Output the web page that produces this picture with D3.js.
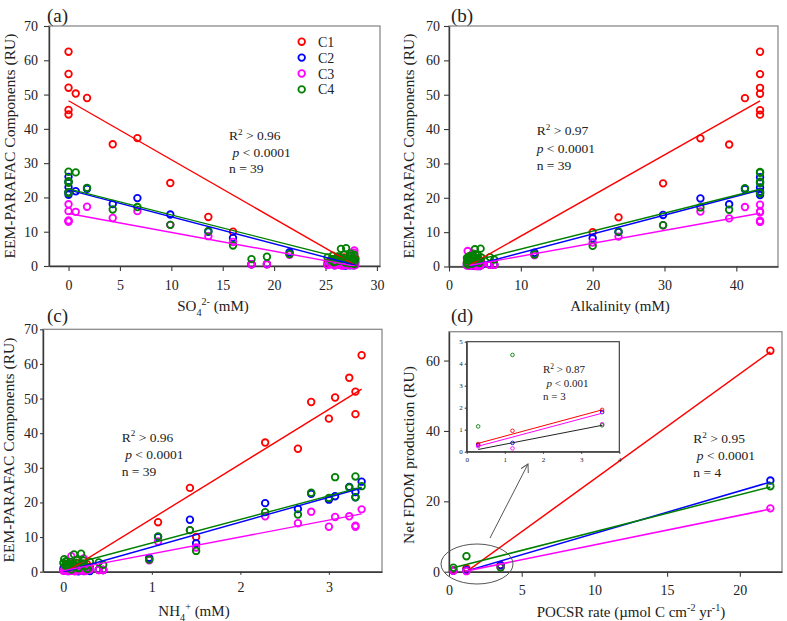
<!DOCTYPE html>
<html><head><meta charset="utf-8">
<script src="https://cdn.jsdelivr.net/npm/d3@7"></script>
<style>
body{margin:0;background:#fff}
svg{display:block}
text{font-family:"Liberation Serif","Times New Roman",serif;fill:#222}
</style>
</head><body><svg id="c" width="787" height="621"></svg>
<script>
// ---------------- DATA ----------------
const components = ["C1", "C2", "C3", "C4"];
// 39 samples: SO4 (mM), alkalinity (mM), NH4+ (mM), and the four PARAFAC components (RU)
const so4 = [0,0,0,0.7,1.8,0,0,6.7,4.3,9.9,13.6,16,17.8,19.3,21.5,
  25.2,25.5,25.7,25.9,26.0,26.2,26.3,26.5,26.6,26.8,26.9,27.0,27.1,27.2,27.3,27.4,27.5,27.6,27.7,27.8,27.9,26.4,25.8,27.8];
const alkalinity = [43.3,43.3,43.3,43.3,41.2,43.3,43.3,35,39,29.8,23.6,20,6.3,5.7,11.9,
  2.5,2.6,2.8,3.0,3.1,3.3,3.5,3.6,3.8,4.0,4.2,4.4,2.7,2.9,3.2,3.4,3.7,3.9,4.1,2.6,3.0,4.5,2.5,3.3];
const nh4 = [3.37,3.23,3.3,3.07,2.8,3.3,3.0,2.28,2.65,1.43,1.07,1.5,0.45,0.4,0.97,
  0.0,0.02,0.03,0.05,0.06,0.08,0.1,0.12,0.13,0.15,0.17,0.2,0.22,0.25,0.27,0.3,0.01,0.04,0.07,0.09,0.11,0.14,0.18,0.23];
const c1 = [62.5,56,52,50.3,49,45.5,44.2,37.3,35.5,24.2,14.3,10,0.5,0.5,3.5,
  1.0,1.5,2.0,0.8,1.8,1.2,2.2,0.6,1.4,2.5,0.9,1.7,1.1,0.5,2.1,1.3,0.7,1.9,1.6,0.4,2.3,1.0,1.2,0.8];
const c2 = [26,24.5,23,21.8,22.5,21.5,20.8,19.8,18.1,15,10,8.2,0.5,0.6,4.0,
  0.4,0.6,0.9,0.2,1.2,0.5,0.7,1.5,0.3,0.8,0.1,1.0,0.6,0.4,0.9,0.2,1.3,0.5,0.3,0.7,1.1,0.4,0.8,0.2];
const c3 = [18,16,13.3,15.8,17.3,13,13,16,14,12,8.7,7,0.5,0.5,3.3,
  0.3,0.5,0.8,0.2,1.0,0.4,0.6,1.2,0.1,0.7,0.4,0.3,0.9,0.2,0.5,0.6,0.4,1.1,0.2,4.5,0.3,0.8,0.5,3.8];
const c4 = [24.7,24.3,27.5,27.3,22.8,21.5,21.3,17.2,16.5,12,10.2,6,2,2.7,3.5,
  2.5,1.8,3.0,1.2,2.2,2.8,1.5,5.0,2.0,3.3,1.0,5.2,2.4,1.6,0.8,2.9,3.6,1.4,2.1,0.6,1.9,2.6,1.1,3.2];

// Linear fits: [C1, C2, C3, C4]
const fitSO4Slope = [-1.72, -0.786, -0.55, -0.76];
const fitSO4Intercept = [48.2, 22.2, 15.3, 22.5];
const fitSO4Range = [0, 28];
const fitAlkSlope = [1.183, 0.55, 0.375, 0.523];
const fitAlkIntercept = [-3.0, -1.54, -0.75, -0.16];
const fitAlkRange = [2.8, 43.3];
const fitNH4Slope = [15.8, 7.2, 4.87, 6.8];
const fitNH4Intercept = [-0.5, -0.1, 0.3, 1.5];
const fitNH4Range = [0, 3.37];

// Panel (d): POCSR rate vs net FDOM production
const pocsr = [0.3, 1.2, 3.55, 22.1];
const netC1 = [0.35, 0.95, 1.9, 62.8];
const netC2 = [0.3, 0.4, 1.8, 25.9];
const netC3 = [0.25, 0.15, 1.25, 18.0];
const netC4 = [1.15, 4.4, 1.2, 24.3];
const fitPocsrSlope = [2.99, 1.21, 0.842, 1.055];
const fitPocsrIntercept = [-3.59, -1.25, -0.81, 0.78];
const fitPocsrStart = [1.3, 1.1, 1.1, 0.3];
const fitPocsrEnd = 22.1;
// inset fits (red, magenta, black)
const insetFitSlope = [0.468, 0.462, 0.338];
const insetFitIntercept = [0.24, 0.11, 0.0];
const insetFitRange = [0.3, 3.55];

// tick values
const yTicks70 = [0,10,20,30,40,50,60,70];
const xTicksSO4 = [0,5,10,15,20,25,30];
const xTicksAlk = [0,10,20,30,40];
const xTicksNH4 = [0,1,2,3];
const xTicksPocsr = [0,5,10,15,20];
const yTicksNet = [0,20,40,60];
const insetXTicks = [0,1,2,3,4];
const insetYTicks = [0,1,2,3,4,5];

// ---------------- STYLE ----------------
const colors = ["#ff0000", "#0000ff", "#ff00ff", "#008000"];
const insetFitColors = ["#ff0000", "#ff00ff", "#222222"];
const svg = d3.select("#c");
const compValues = [c1, c2, c3, c4];
const netValues = [netC1, netC2, netC3, netC4];

function rich(sel, parts, size) {
  let shift = 0;
  parts.forEach(p => {
    const ts = sel.append("tspan").text(p.t);
    const target = p.sub ? size * 0.3 : (p.sup ? -size * 0.4 : 0);
    if (target - shift !== 0) ts.attr("dy", target - shift);
    shift = target;
    if (p.sub || p.sup) ts.attr("font-size", size * 0.68);
    if (p.i) ts.attr("font-style", "italic");
  });
}

let clipId = 0;
function makePanel(cfg) {
  const x = d3.scaleLinear().domain(cfg.xDomain).range([cfg.left, cfg.right]);
  const y = d3.scaleLinear().domain(cfg.yDomain).range([cfg.bottom, cfg.top]);
  const g = svg.append("g");
  g.append("rect").attr("x", cfg.left).attr("y", cfg.top)
    .attr("width", cfg.right - cfg.left).attr("height", cfg.bottom - cfg.top)
    .attr("fill", "#fff").attr("stroke", "#8a8a8a").attr("stroke-width", 1.3);
  const ya = g.append("g").attr("transform", `translate(${cfg.left},0)`)
    .call(d3.axisLeft(y).tickValues(cfg.yTicks).tickSize(cfg.tick).tickSizeOuter(0).tickPadding(cfg.yPad).tickFormat(d3.format("d")));
  const xa = g.append("g").attr("transform", `translate(0,${cfg.bottom})`)
    .call(d3.axisBottom(x).tickValues(cfg.xTicks).tickSize(cfg.tick).tickSizeOuter(0).tickPadding(cfg.xPad).tickFormat(d3.format("d")));
  [ya, xa].forEach(a => {
    a.select(".domain").attr("stroke", "#3a3a3a").attr("stroke-width", 1.4);
    a.selectAll(".tick line").attr("stroke", "#3a3a3a").attr("stroke-width", 1.1);
    a.selectAll(".tick text").attr("font-family", '"Liberation Serif","Times New Roman",serif')
      .attr("font-size", cfg.fs || 14).attr("fill", "#222");
  });
  const id = "clip" + (clipId++);
  svg.append("clipPath").attr("id", id).append("rect")
    .attr("x", cfg.left).attr("y", cfg.top).attr("width", cfg.right - cfg.left).attr("height", cfg.bottom - cfg.top);
  return {x, y, g, clip: `url(#${id})`};
}

function drawPoints(p, xs, ysArr, r, sw) {
  ysArr.forEach((ys, k) => {
    p.g.append("g").selectAll("circle").data(xs.map((v, i) => [v, ys[i]])).join("circle")
      .attr("cx", d => p.x(d[0])).attr("cy", d => p.y(d[1])).attr("r", r)
      .attr("fill", "none").attr("stroke", colors[k]).attr("stroke-width", sw);
  });
}
function drawFit(p, slope, intercept, x0, x1, color, w) {
  p.g.append("line").attr("clip-path", p.clip)
    .attr("x1", p.x(x0)).attr("y1", p.y(intercept + slope * x0))
    .attr("x2", p.x(x1)).attr("y2", p.y(intercept + slope * x1))
    .attr("stroke", color).attr("stroke-width", w || 1.4);
}
function label(x, y, t, size) {
  svg.append("text").attr("x", x).attr("y", y).attr("font-size", size).text(t);
}
function stats(x, y, r2, pv, n, size, step, pIndent) {
  const t1 = svg.append("text").attr("x", x).attr("y", y).attr("font-size", size);
  rich(t1, [{t: "R"}, {t: "2", sup: true}, {t: " > " + r2}], size);
  const t2 = svg.append("text").attr("x", x + pIndent).attr("y", y + step).attr("font-size", size);
  rich(t2, [{t: "p", i: true}, {t: " < " + pv}], size);
  svg.append("text").attr("x", x).attr("y", y + 2 * step).attr("font-size", size).text("n = " + n);
}
function yTitle(x, y, parts, size) {
  const t = svg.append("text").attr("transform", `translate(${x},${y}) rotate(-90)`)
    .attr("text-anchor", "middle").attr("font-size", size);
  rich(t, parts, size);
}
function xTitle(x, y, parts, size) {
  const t = svg.append("text").attr("x", x).attr("y", y).attr("text-anchor", "middle").attr("font-size", size);
  rich(t, parts, size);
}

// ---------------- PANEL (a) ----------------
const pa = makePanel({left: 49, right: 380, top: 26, bottom: 266, xDomain: [-1.9, 30.3], yDomain: [0, 70],
  xTicks: xTicksSO4, yTicks: yTicks70, tick: 5, xPad: 9, yPad: 6});
drawPoints(pa, so4, compValues, 3.3, 1.8);
components.forEach((c, k) => drawFit(pa, fitSO4Slope[k], fitSO4Intercept[k], fitSO4Range[0], fitSO4Range[1], colors[k]));
components.forEach((c, k) => {
  pa.g.append("circle").attr("cx", 301.7).attr("cy", 41.7 + k * 15.9).attr("r", 3.3)
    .attr("fill", "none").attr("stroke", colors[k]).attr("stroke-width", 1.8);
  pa.g.append("text").attr("x", 318).attr("y", 41.7 + k * 15.9 + 5).attr("font-size", 14).text(c);
});
stats(229, 140, "0.96", "0.0001", 39, 13.5, 16.5, 3.5);
label(47, 22, "(a)", 19);
yTitle(14.5, 146, [{t: "EEM-PARAFAC Components (RU)"}], 15.5);
xTitle(213, 311, [{t: "SO"}, {t: "4", sub: true}, {t: "2-", sup: true}, {t: " (mM)"}], 15);

// ---------------- PANEL (b) ----------------
const pb = makePanel({left: 449, right: 778, top: 26, bottom: 266.5, xDomain: [0, 45.8], yDomain: [0, 70],
  xTicks: xTicksAlk, yTicks: yTicks70, tick: 5, xPad: 9, yPad: 4});
drawPoints(pb, alkalinity, compValues, 3.3, 1.8);
components.forEach((c, k) => drawFit(pb, fitAlkSlope[k], fitAlkIntercept[k], fitAlkRange[0], fitAlkRange[1], colors[k]));
stats(536.7, 135, "0.97", "0.0001", 39, 13.5, 17.5, 0);
label(451, 22, "(b)", 19);
yTitle(414, 146, [{t: "EEM-PARAFAC Components (RU)"}], 15.5);
xTitle(620, 311, [{t: "Alkalinity (mM)"}], 15);

// ---------------- PANEL (c) ----------------
const pc = makePanel({left: 43, right: 382, top: 329.3, bottom: 571.7, xDomain: [-0.23, 3.6], yDomain: [0, 70],
  xTicks: xTicksNH4, yTicks: yTicks70, tick: 3, xPad: 7, yPad: 2});
drawPoints(pc, nh4, compValues, 3.3, 1.8);
components.forEach((c, k) => drawFit(pc, fitNH4Slope[k], fitNH4Intercept[k], fitNH4Range[0], fitNH4Range[1], colors[k]));
stats(121.7, 441.5, "0.96", "0.0001", 39, 13.5, 17.2, 3.5);
label(47, 322, "(c)", 19);
yTitle(14, 450, [{t: "EEM-PARAFAC Components (RU)"}], 15.5);
xTitle(194, 616, [{t: "NH"}, {t: "4", sub: true}, {t: "+", sup: true}, {t: " (mM)"}], 15);

// ---------------- PANEL (d) ----------------
const pd = makePanel({left: 449, right: 782, top: 331.7, bottom: 571.7, xDomain: [0, 22.9], yDomain: [0, 68.2],
  xTicks: xTicksPocsr, yTicks: yTicksNet, tick: 5, xPad: 8, yPad: 4});
drawPoints(pd, pocsr, netValues, 3.3, 1.8);
components.forEach((c, k) => drawFit(pd, fitPocsrSlope[k], fitPocsrIntercept[k], fitPocsrStart[k], fitPocsrEnd, colors[k], 1.5));
stats(693.3, 443, "0.95", "0.0001", 4, 13.5, 17, 3.5);
label(451, 322, "(d)", 19);
yTitle(414, 455, [{t: "Net FDOM production (RU)"}], 15.5);
xTitle(631, 617, [{t: "POCSR rate (µmol C cm"}, {t: "-2", sup: true}, {t: " yr"}, {t: "-1", sup: true}, {t: ")"}], 15);

// ellipse and arrow
pd.g.append("ellipse").attr("cx", 477).attr("cy", 564).attr("rx", 36).attr("ry", 20)
  .attr("fill", "none").attr("stroke", "#555").attr("stroke-width", 1);
svg.append("defs").append("marker").attr("id", "arr").attr("viewBox", "0 0 10 10")
  .attr("refX", 9).attr("refY", 5).attr("markerWidth", 9).attr("markerHeight", 9)
  .attr("markerUnits", "userSpaceOnUse").attr("orient", "auto")
  .append("path").attr("d", "M0,0 L9,5 L0,10").attr("fill", "none").attr("stroke", "#555").attr("stroke-width", 1.1);
pd.g.append("line").attr("x1", 490).attr("y1", 538).attr("x2", 528).attr("y2", 464)
  .attr("stroke", "#555").attr("stroke-width", 1).attr("marker-end", "url(#arr)");

// inset
const pi = makePanel({left: 466.7, right: 619.3, top: 341.7, bottom: 451.7, xDomain: [0, 4], yDomain: [0, 5],
  xTicks: insetXTicks, yTicks: insetYTicks, tick: 2, xPad: 3, yPad: 2, fs: 7});
pi.g.select("rect").attr("stroke", "#333").attr("stroke-width", 1.1);
pi.g.selectAll(".domain").attr("stroke-width", 1.1);
drawPoints(pi, pocsr.slice(0, 3), netValues.map(a => a.slice(0, 3)), 1.8, 0.9);
insetFitSlope.forEach((s, k) => drawFit(pi, s, insetFitIntercept[k], insetFitRange[0], insetFitRange[1], insetFitColors[k], 1));
stats(543, 373, "0.87", "0.001", 3, 11, 13.7, 3.5);
</script>
</body></html>
